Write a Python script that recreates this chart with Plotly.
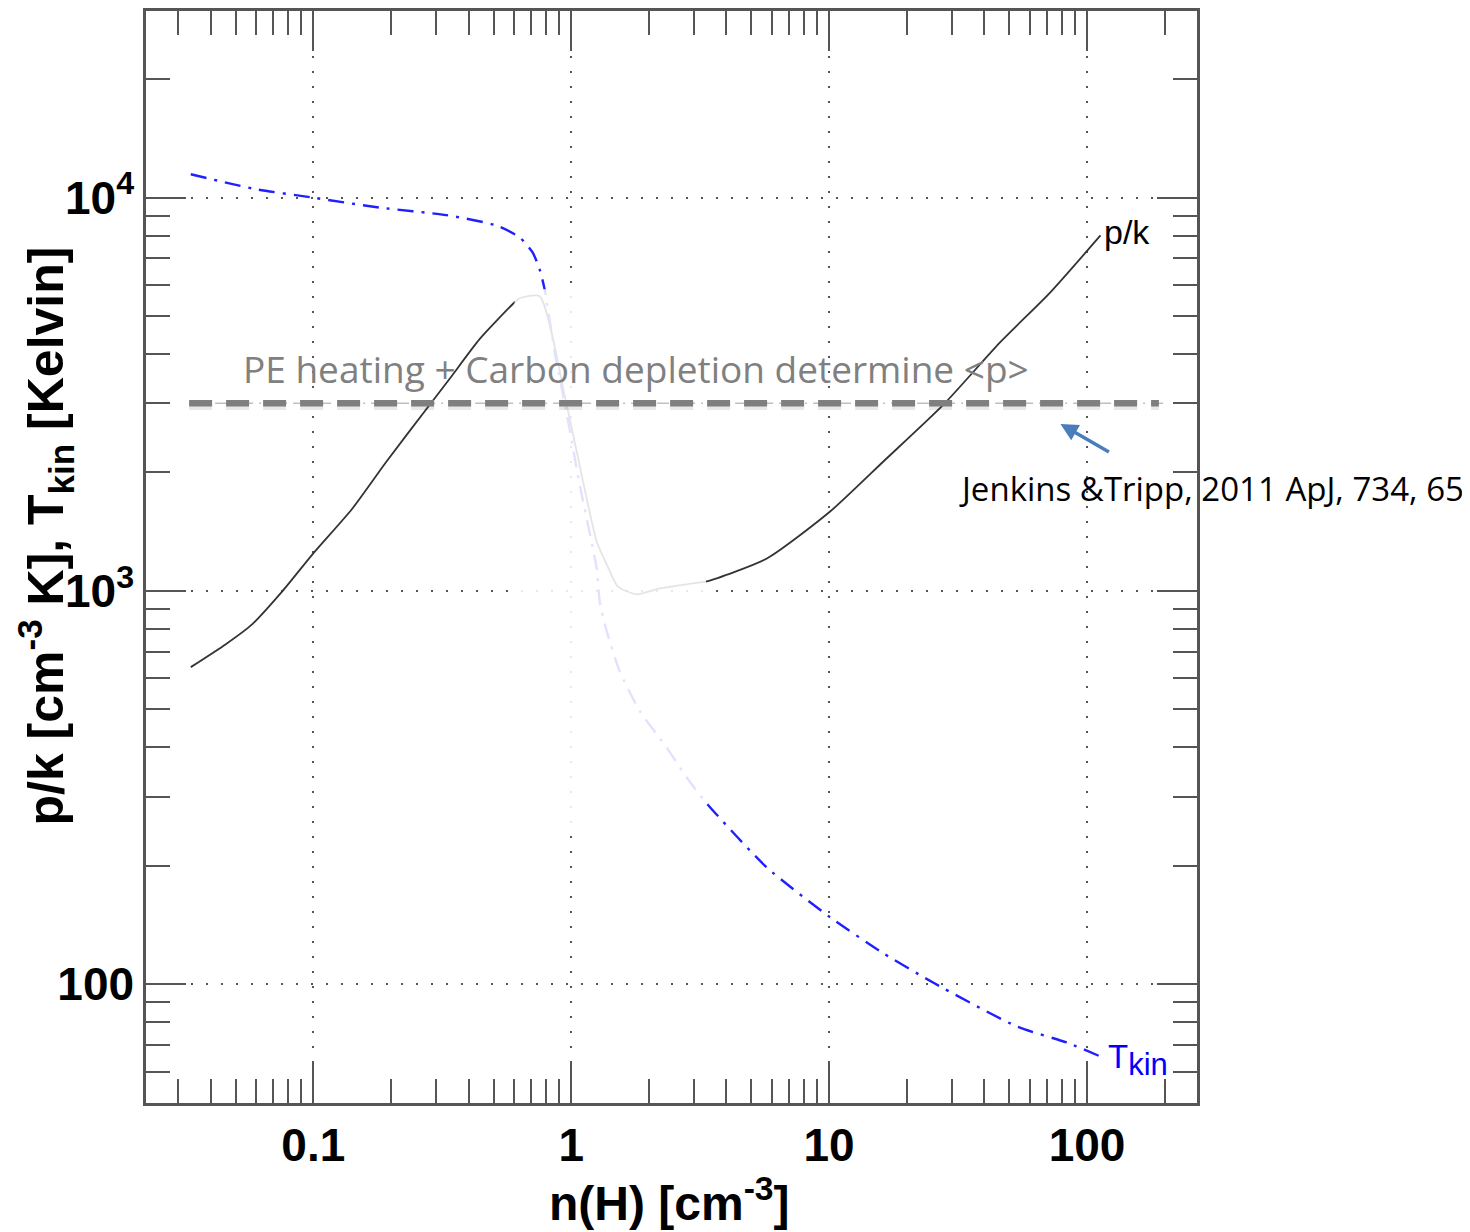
import numpy as np
import plotly.graph_objects as go

# ---------------- data ----------------
pk_n = [0.0335, 0.0458, 0.0579, 0.0758, 0.0991, 0.1416, 0.192, 0.2747, 0.3373, 0.4414,
        0.6035, 0.631, 0.7545, 0.9605, 1.256, 1.374, 1.516, 1.795, 2.207, 2.964, 3.357,
        5.74, 10.09, 16.2, 27.7, 46.1, 72.1, 112.8]
pk_val = [640, 732, 822, 997, 1237, 1618, 2130, 2901, 3457, 4366,
          5418, 5546, 5612, 2970, 1335, 1167, 1027, 980, 1015, 1045, 1057,
          1209, 1591, 2130, 2970, 4290, 5742, 8010]

tkin_n = [0.0335, 0.0599, 0.0991, 0.1804, 0.3285, 0.5137, 0.631, 0.7087, 0.7545, 0.7885,
          0.863, 0.969, 1.079, 1.256, 1.29, 1.374, 1.542, 1.845, 2.35, 2.81, 3.357,
          5.74, 10.09, 16.2, 25.3, 53.7, 84.0, 115.9]
tkin_val = [11460, 10500, 10000, 9430, 9020, 8490, 7920, 7250, 6570, 5850,
            4050, 2740, 1860, 1140, 940, 789, 625, 495, 399, 335, 288,
            198, 148, 120, 101, 78, 71, 65]

x_tickvals = [0.1, 1, 10, 100]
x_ticktext = ["0.1", "1", "10", "100"]
y_tickvals = [100, 1000, 10000]
y_ticktext = ["100", "10<sup>3</sup>", "10<sup>4</sup>"]

x_range = [0.02246, 267]
y_range = [49.9, 29800]

p_mean = 3000                 # <p>/k from Jenkins & Tripp
p_mean_span = [0.033, 190]
fade_n = [0.6035, 3.33]       # faded (transition) region
fade_T = [253, 5846]

pe_text = "PE heating + Carbon depletion determine &lt;p&gt;"
pe_pos = [1.78, 3686]
ref_text = "Jenkins &amp;Tripp, 2011 ApJ, 734, 65"
ref_pos = [31.4, 1818]
arrow_head = [78.9, 2658]
pk_label_pos = [114, 8150]
tkin_label_pos = [118, 64]

AX_FONT = "Liberation Sans"

# page geometry (browser body has an 8px margin)
W, H = 1462, 1224
ML, MR, MT, MB = 138, 273, 0, 129
PW = W - ML - MR
PH = H - MT - MB
PLOT_LEFT, PLOT_BOTTOM = 8 + ML, 8 + H - MB   # in page pixels

fig = go.Figure()

fig.add_trace(go.Scatter(
    x=pk_n, y=pk_val, mode="lines",
    line=dict(color="#333333", width=1.8, shape="spline", smoothing=0.6),
    hoverinfo="skip", showlegend=False))

fig.add_trace(go.Scatter(
    x=tkin_n, y=tkin_val, mode="lines",
    line=dict(color="#2020ff", width=2.4, dash="16px,8px,3px,8px",
              shape="spline", smoothing=0.6),
    hoverinfo="skip", showlegend=False))

shapes = []
# faded transition region (white veil over curves and grid)
shapes.append(dict(type="rect", xref="x", yref="y",
                   x0=fade_n[0], x1=fade_n[1], y0=fade_T[0], y1=fade_T[1],
                   fillcolor="rgba(255,255,255,0.87)", line=dict(width=0),
                   layer="above"))
# thin line under the thick dashed line
shapes.append(dict(type="line", xref="x", yref="y",
                   x0=p_mean_span[0], x1=p_mean_span[1] * 1.07, y0=p_mean, y1=p_mean,
                   line=dict(color="#c0c0c0", width=1.5, dash="12px,6px,2px,6px"),
                   layer="above"))
# soft shadow of the thick dashed line
shapes.append(dict(type="line", xref="x", yref="y",
                   x0=p_mean_span[0], x1=p_mean_span[1],
                   y0=p_mean / 1.016, y1=p_mean / 1.016,
                   line=dict(color="rgba(0,0,0,0.09)", width=8, dash="23px,14px"),
                   layer="above"))
# thick dashed line
shapes.append(dict(type="line", xref="x", yref="y",
                   x0=p_mean_span[0], x1=p_mean_span[1], y0=p_mean, y1=p_mean,
                   line=dict(color="#7f7f7f", width=6.5, dash="23px,14px"),
                   layer="above"))

annotations = []
annotations.append(dict(
    x=np.log10(pe_pos[0]), y=np.log10(pe_pos[1]), xref="x", yref="y",
    text=pe_text, showarrow=False, xanchor="center", yanchor="middle",
    font=dict(family="Open Sans", size=37, color="#808080")))
annotations.append(dict(
    x=np.log10(ref_pos[0]), y=np.log10(ref_pos[1]), xref="x", yref="y",
    text=ref_text, showarrow=False, xanchor="left", yanchor="middle",
    font=dict(family="Open Sans", size=33, color="#000000")))
annotations.append(dict(
    x=np.log10(arrow_head[0]), y=np.log10(arrow_head[1]), xref="x", yref="y",
    text="", showarrow=True, ax=50, ay=29, axref="pixel", ayref="pixel",
    arrowhead=2, arrowsize=1.0, arrowwidth=3.5, arrowcolor="#4a7ebb", standoff=0))
annotations.append(dict(
    x=np.log10(pk_label_pos[0]), y=np.log10(pk_label_pos[1]), xref="x", yref="y",
    text="p/k", showarrow=False, xanchor="left", yanchor="middle",
    font=dict(family=AX_FONT, size=34, color="#000000")))
annotations.append(dict(
    x=np.log10(tkin_label_pos[0]), y=np.log10(tkin_label_pos[1]), xref="x", yref="y",
    text="T<sub><span style='font-size:31px'>kin</span></sub>", showarrow=False,
    xanchor="left", yanchor="middle",
    font=dict(family=AX_FONT, size=33, color="#0000ff")))
# axis titles (positions given in page pixels of the reference)
annotations.append(dict(
    x=(669 - PLOT_LEFT) / PW, y=-(1200 - PLOT_BOTTOM) / PH, xref="paper", yref="paper",
    text="n(H) [cm<sup>-3</sup>]", showarrow=False, xanchor="center", yanchor="middle",
    font=dict(family=AX_FONT, size=48, color="#000000", weight="bold")))
annotations.append(dict(
    x=-(PLOT_LEFT - 46) / PW, y=(PLOT_BOTTOM - 535) / PH, xref="paper", yref="paper",
    text="p/k [cm<sup>-3</sup> K], T<sub>kin</sub> [Kelvin]", showarrow=False,
    textangle=-90, xanchor="center", yanchor="middle",
    font=dict(family=AX_FONT, size=50, color="#000000", weight="bold")))

axis_common = dict(
    type="log", showline=True, linecolor="#555555", linewidth=2.5, mirror="ticks",
    ticks="inside", ticklen=40, tickwidth=2, tickcolor="#555555",
    showgrid=True, gridcolor="#555555", gridwidth=2, griddash="2px,13px",
    zeroline=False,
    tickfont=dict(family=AX_FONT, size=46, color="#000000", weight="bold"),
    minor=dict(ticks="inside", ticklen=24, tickwidth=2, tickcolor="#555555",
               dtick="D1", showgrid=False),
)

fig.update_layout(
    width=W, height=H,
    margin=dict(l=ML, r=MR, t=MT, b=MB),
    paper_bgcolor="white", plot_bgcolor="white",
    showlegend=False,
    xaxis=dict(axis_common, range=[np.log10(x_range[0]), np.log10(x_range[1])],
               tickmode="array", tickvals=x_tickvals, ticktext=x_ticktext),
    yaxis=dict(axis_common, range=[np.log10(y_range[0]), np.log10(y_range[1])],
               tickmode="array", tickvals=y_tickvals, ticktext=y_ticktext),
    shapes=shapes,
    annotations=annotations,
)

fig.write_html("out.html")
